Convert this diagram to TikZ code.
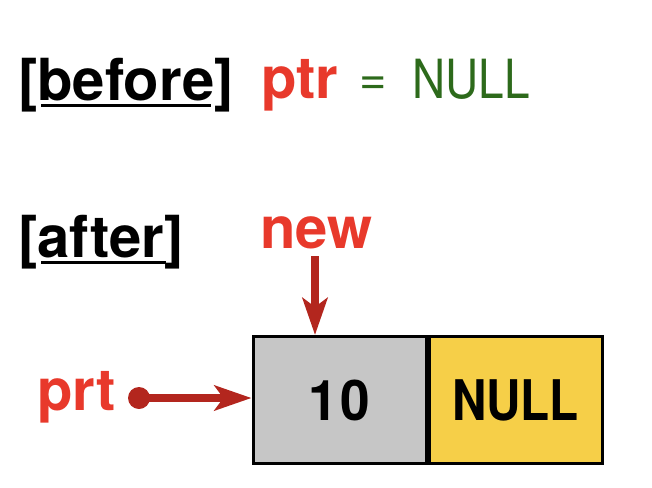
\documentclass[tikz,border=0pt]{standalone}
\usepackage{fontspec}
\setmainfont{TeX Gyre Heros}
\usetikzlibrary{arrows.meta}
\definecolor{txtred}{HTML}{E8392B}
\definecolor{arrred}{HTML}{B3261E}
\definecolor{nullgreen}{HTML}{2D6A1B}
\definecolor{cellgray}{HTML}{C6C6C6}
\definecolor{cellyellow}{HTML}{F6CF48}
\tikzset{
  bigbold/.style={font=\fontsize{58}{62}\selectfont\bfseries, inner sep=0pt, anchor=base west},
  redlabel/.style={bigbold, text=txtred},
  cellbox/.style={draw=black, line width=3pt, minimum width=173pt, minimum height=127pt, inner sep=0pt,
    font=\fontsize{56}{60}\selectfont\bfseries},
  ptrarrow/.style={draw=arrred, line width=7.5pt, -{Stealth[length=37pt, width=25pt, inset=9pt]}},
  ptrdot/.style={circle, fill=arrred, minimum size=22pt, inner sep=0pt},
  uline/.style={line width=3pt, black}
}
\begin{document}
\begin{tikzpicture}[x=1pt, y=-1pt]
\useasboundingbox (0,0) rectangle (652,487);
% before line
\node[bigbold] (before) at (18,100) {[before]};
\draw[uline] (41,105) -- (211,105);
\node[redlabel] (ptrtop) at (261,98) {ptr};
\node[font=\fontsize{47}{50}\selectfont, text=nullgreen, inner sep=0pt] (eq) at (373.5,86) {=};
\node[font=\fontsize{54}{58}\selectfont, text=nullgreen, inner sep=0pt, anchor=base west] (nulltop) at (412,98) {\scalebox{0.85}[1]{NULL}};
% after line
\node[bigbold] (after) at (18,257) {[after]};
\draw[uline] (41,262) -- (166,262);
\node[redlabel] (new) at (260,248) {new};
\node[redlabel] (prt) at (37,410) {prt};
% list node
\node[cellbox, fill=cellgray] (val) at (339.5,400) {\scalebox{0.95}[1]{1\kern3pt0}};
\node[cellbox, fill=cellyellow, anchor=west] (nul) at (val.east) {\scalebox{0.85}[1]{NULL}};
% connectors
\coordinate (ns) at (315,256);
\draw[ptrarrow] (ns) -- (ns |- val.north);
\node[ptrdot] (pd) at (139,398) {};
\draw[ptrarrow] (pd.center) -- (pd.center -| val.west);
\end{tikzpicture}
\end{document}
